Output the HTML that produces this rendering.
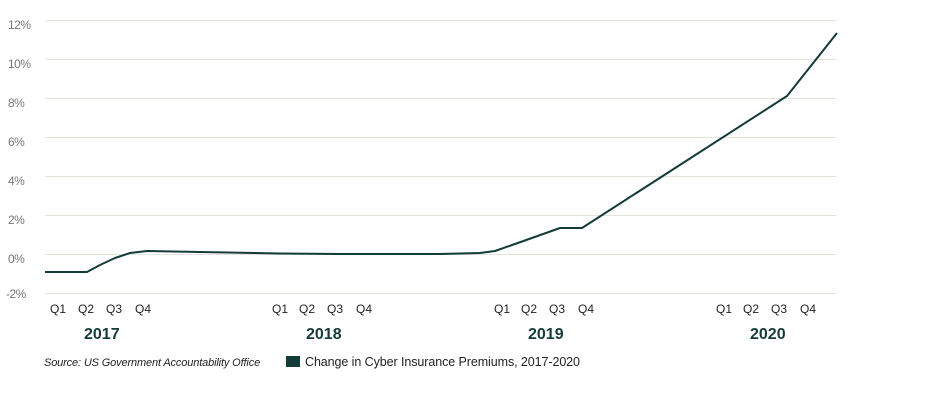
<!DOCTYPE html>
<html><head><style>
body{margin:0;background:#fff;width:945px;height:400px;overflow:hidden;font-family:"Liberation Sans",sans-serif}
</style></head><body>
<svg width="945" height="400" xmlns="http://www.w3.org/2000/svg">
<g stroke="#e6e2dc" stroke-width="1">
<line x1="45" x2="836" y1="20.5" y2="20.5"/>
<line x1="45" x2="836" y1="59.5" y2="59.5"/>
<line x1="45" x2="836" y1="98.5" y2="98.5"/>
<line x1="45" x2="836" y1="137.5" y2="137.5"/>
<line x1="45" x2="836" y1="176.5" y2="176.5"/>
<line x1="45" x2="836" y1="215.5" y2="215.5"/>
<line x1="45" x2="836" y1="254.5" y2="254.5"/>
<line x1="45" x2="836" y1="293.5" y2="293.5"/>
</g>
<g font-size="12" fill="#777" letter-spacing="-0.5">
<text x="8" y="29">12%</text>
<text x="8" y="68">10%</text>
<text x="8" y="107">8%</text>
<text x="8" y="146">6%</text>
<text x="8" y="185">4%</text>
<text x="8" y="224">2%</text>
<text x="8" y="263">0%</text>
<text x="6" y="298">-2%</text>
</g>
<polyline fill="none" stroke="#133c36" stroke-width="2" stroke-linejoin="round"
points="45,272 87,272 100,265 115,258 130,253 147,251 200,252 280,253.5 340,254 440,254 480,253 495,251 515,244 560,228 582,228 787,96 837,33"/>
<g font-size="12" fill="#222">
<text x="50" y="313">Q1</text><text x="78" y="313">Q2</text><text x="106" y="313">Q3</text><text x="135" y="313">Q4</text>
<text x="272" y="313">Q1</text><text x="299" y="313">Q2</text><text x="327" y="313">Q3</text><text x="356" y="313">Q4</text>
<text x="494" y="313">Q1</text><text x="521" y="313">Q2</text><text x="549" y="313">Q3</text><text x="578" y="313">Q4</text>
<text x="716" y="313">Q1</text><text x="743" y="313">Q2</text><text x="771" y="313">Q3</text><text x="800" y="313">Q4</text>
</g>
<g font-size="16" font-weight="bold" fill="#133c36">
<text x="84" y="339">2017</text>
<text x="306" y="339">2018</text>
<text x="528" y="339">2019</text>
<text x="750" y="339">2020</text>
</g>
<text x="44" y="366" font-size="11" font-style="italic" fill="#222" letter-spacing="-0.2" textLength="216">Source: US Government Accountability Office</text>
<rect x="286" y="356" width="14" height="11" fill="#133c36"/>
<text x="305" y="366" font-size="12.5" fill="#222" textLength="275">Change in Cyber Insurance Premiums, 2017-2020</text>
</svg>
</body></html>
